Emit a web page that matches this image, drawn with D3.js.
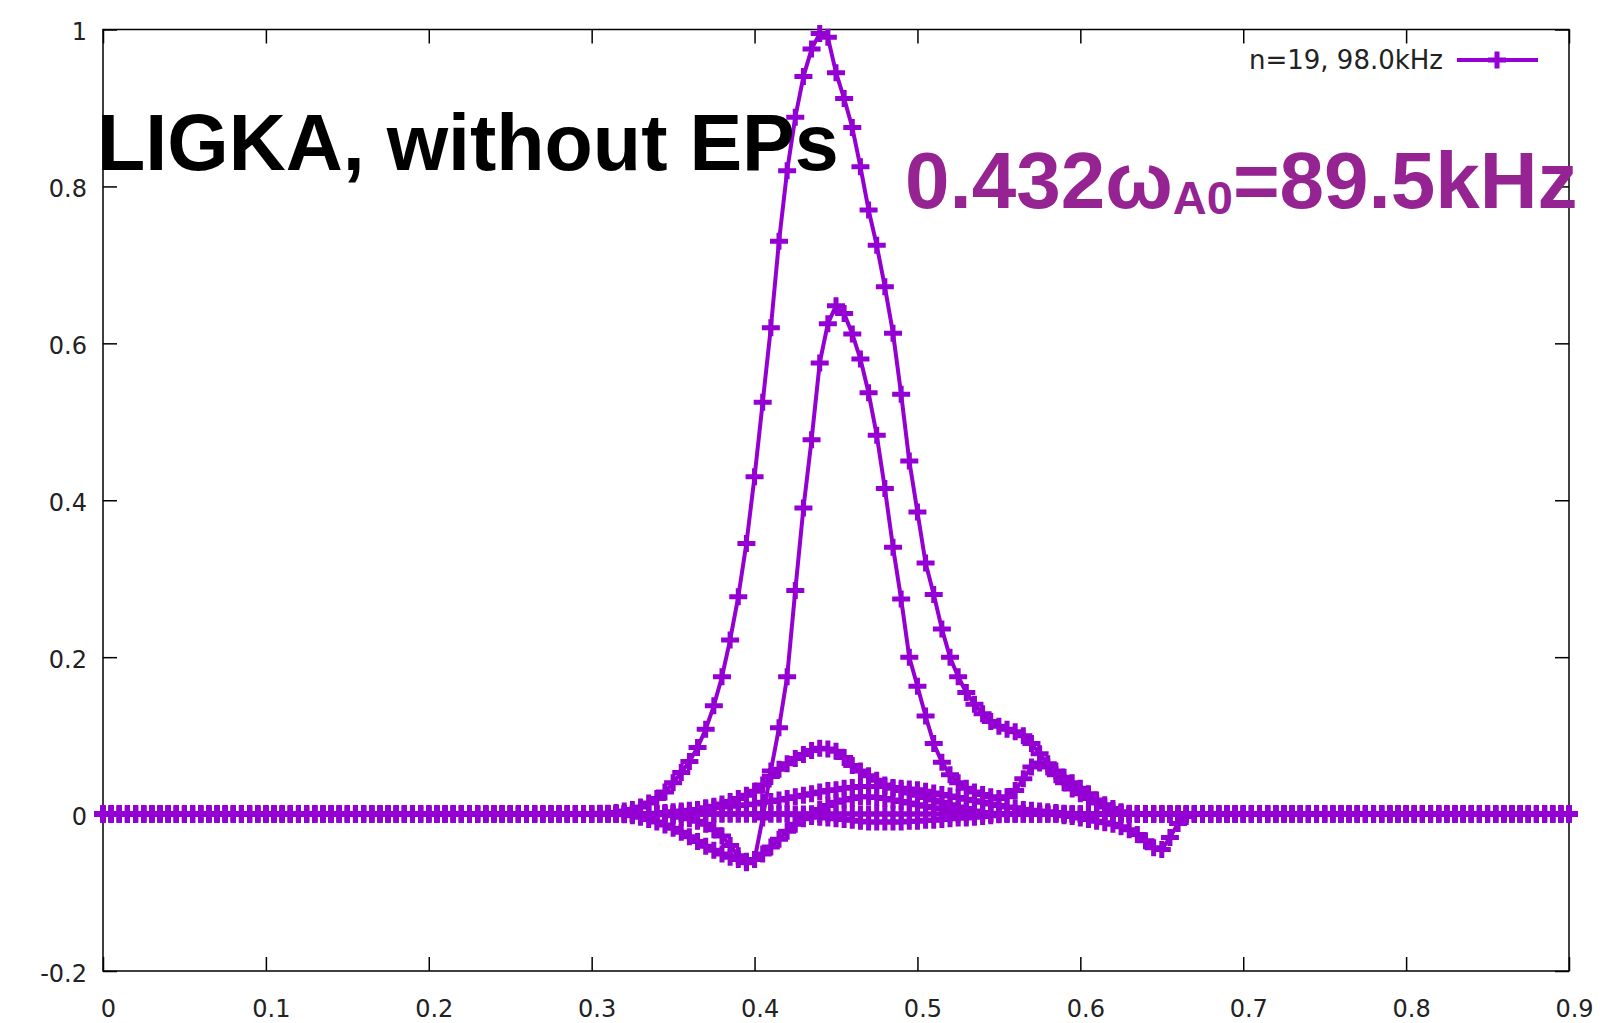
<!DOCTYPE html>
<meta charset="utf-8">
<style>
body { margin: 0; background: #fff; }
.axis text { font: 24px "DejaVu Sans", sans-serif; fill: #222; }
.axis line { stroke: #000; stroke-width: 1.5; }
.axis path { display: none; }
.frame { fill: none; stroke: #000; stroke-width: 1.5; }
.mode { fill: none; stroke: #9400d3; stroke-width: 4; stroke-linejoin: round; }
.mark { fill: none; stroke: #9400d3; stroke-width: 5; }
</style>
<body>
<script src="https://d3js.org/d3.v7.min.js"></script>
<script>

// radial grid (normalised radius), step 0.005
var rho = [
  0,0.005,0.01,0.015,0.02,0.025,0.03,0.035,0.04,0.045,0.05,0.055,0.06,0.065,0.07,0.075,0.08,0.085,0.09,0.095,
  0.1,0.105,0.11,0.115,0.12,0.125,0.13,0.135,0.14,0.145,0.15,0.155,0.16,0.165,0.17,0.175,0.18,0.185,0.19,0.195,
  0.2,0.205,0.21,0.215,0.22,0.225,0.23,0.235,0.24,0.245,0.25,0.255,0.26,0.265,0.27,0.275,0.28,0.285,0.29,0.295,
  0.3,0.305,0.31,0.315,0.32,0.325,0.33,0.335,0.34,0.345,0.35,0.355,0.36,0.365,0.37,0.375,0.38,0.385,0.39,0.395,
  0.4,0.405,0.41,0.415,0.42,0.425,0.43,0.435,0.44,0.445,0.45,0.455,0.46,0.465,0.47,0.475,0.48,0.485,0.49,0.495,
  0.5,0.505,0.51,0.515,0.52,0.525,0.53,0.535,0.54,0.545,0.55,0.555,0.56,0.565,0.57,0.575,0.58,0.585,0.59,0.595,
  0.6,0.605,0.61,0.615,0.62,0.625,0.63,0.635,0.64,0.645,0.65,0.655,0.66,0.665,0.67,0.675,0.68,0.685,0.69,0.695,
  0.7,0.705,0.71,0.715,0.72,0.725,0.73,0.735,0.74,0.745,0.75,0.755,0.76,0.765,0.77,0.775,0.78,0.785,0.79,0.795,
  0.8,0.805,0.81,0.815,0.82,0.825,0.83,0.835,0.84,0.845,0.85,0.855,0.86,0.865,0.87,0.875,0.88,0.885,0.89,0.895,
  0.9
];

// poloidal harmonics of the n=19 eigenfunction
var modeA = [
  0,0,0,0,0,0,0,0,0,0, 0,0,0,0,0,0,0,0,0,0,
  0,0,0,0,0,0,0,0,0,0, 0,0,0,0,0,0,0,0,0,0,
  0,0,0,0,0,0,0,0,0,0, 0,0,0,0,0,0,0,0,0,0,
  0,0.001,0.001,0.002,0.004,0.006,0.009,0.014,0.02,0.028,
  0.04,0.053,0.067,0.085,0.108,0.138,0.175,0.222,0.277,0.345,
  0.43,0.525,0.62,0.73,0.82,0.888,0.94,0.975,0.995,0.99,
  0.945,0.912,0.875,0.825,0.77,0.725,0.672,0.613,0.535,0.45,
  0.385,0.32,0.28,0.236,0.2,0.175,0.155,0.14,0.128,0.118,
  0.112,0.108,0.105,0.1,0.09,0.077,0.064,0.055,0.047,0.04,
  0.033,0.026,0.018,0.012,0.007,0.003,0.001,0,0,0,
  0,0,0,0,0,
  0,0,0,0,0,0,0,0,0,0, 0,0,0,0,0,0,0,0,0,0,
  0,0,0,0,0,0,0,0,0,0, 0,0,0,0,0,0,0,0,0,0,
  0,0,0,0,0,0
];
var modeB = [
  0,0,0,0,0,0,0,0,0,0, 0,0,0,0,0,0,0,0,0,0,
  0,0,0,0,0,0,0,0,0,0, 0,0,0,0,0,0,0,0,0,0,
  0,0,0,0,0,0,0,0,0,0, 0,0,0,0,0,0,0,0,0,0,
  0,0,0,0,0,0,0,0,0,-0.001,
  -0.002,-0.004,-0.006,-0.009,-0.013,-0.02,-0.028,-0.04,-0.053,-0.062,
  -0.058,-0.005,0.055,0.11,0.175,0.285,0.39,0.477,0.575,0.625,
  0.648,0.638,0.612,0.58,0.537,0.483,0.415,0.34,0.274,0.2,
  0.163,0.125,0.09,0.066,0.05,0.04,0.033,0.028,0.025,0.022,
  0.02,0.022,0.03,0.045,0.06,0.065,0.06,0.05,0.04,0.032,
  0.026,0.02,0.014,0.009,0.005,0.002,0,0,0,0,
  0,0,0,0,0,
  0,0,0,0,0,0,0,0,0,0, 0,0,0,0,0,0,0,0,0,0,
  0,0,0,0,0,0,0,0,0,0, 0,0,0,0,0,0,0,0,0,0,
  0,0,0,0,0,0
];
var modeC = [
  0,0,0,0,0,0,0,0,0,0, 0,0,0,0,0,0,0,0,0,0,
  0,0,0,0,0,0,0,0,0,0, 0,0,0,0,0,0,0,0,0,0,
  0,0,0,0,0,0,0,0,0,0, 0,0,0,0,0,0,0,0,0,0,
  0,0,0,0,0,0,0,0,0,0,
  0,0.002,0.004,0.006,0.008,0.01,0.013,0.016,0.02,0.024,
  0.029,0.037,0.048,0.057,0.064,0.071,0.076,0.081,0.084,0.083,
  0.08,0.072,0.062,0.055,0.049,0.043,0.037,0.033,0.03,0.027,
  0.024,0.021,0.018,0.015,0.012,0.009,0.007,0.004,0.002,0.001,
  0,0,0,0,0,0,0,0,0,0,
  0,0,0,0,0,0,0,0,0,0,
  0,0,0,0,0,
  0,0,0,0,0,0,0,0,0,0, 0,0,0,0,0,0,0,0,0,0,
  0,0,0,0,0,0,0,0,0,0, 0,0,0,0,0,0,0,0,0,0,
  0,0,0,0,0,0
];
var modeD = [
  0,0,0,0,0,0,0,0,0,0, 0,0,0,0,0,0,0,0,0,0,
  0,0,0,0,0,0,0,0,0,0, 0,0,0,0,0,0,0,0,0,0,
  0,0,0,0,0,0,0,0,0,0, 0,0,0,0,0,0,0,0,0,0,
  0,0,0,0,-0.001,-0.002,-0.004,-0.007,-0.01,-0.014,
  -0.018,-0.023,-0.029,-0.035,-0.041,-0.046,-0.051,-0.055,-0.058,-0.06,
  -0.058,-0.051,-0.042,-0.032,-0.022,-0.013,-0.006,0,0.006,0.011,
  0.015,0.018,0.02,0.022,0.022,0.021,0.02,0.018,0.016,0.014,
  0.012,0.01,0.008,0.007,0.006,0.004,0.003,0.002,0.001,0,
  0,0,0,0,0,0,0,0,0,0,
  0,0,0,0,0,0,0,0,0,0,
  0,0,0,0,0,
  0,0,0,0,0,0,0,0,0,0, 0,0,0,0,0,0,0,0,0,0,
  0,0,0,0,0,0,0,0,0,0, 0,0,0,0,0,0,0,0,0,0,
  0,0,0,0,0,0
];
var modeE = [
  0,0,0,0,0,0,0,0,0,0, 0,0,0,0,0,0,0,0,0,0,
  0,0,0,0,0,0,0,0,0,0, 0,0,0,0,0,0,0,0,0,0,
  0,0,0,0,0,0,0,0,0,0, 0,0,0,0,0,0,0,0,0,0,
  0,0,0,0,0,0,0,0,0.001,0.002,
  0.003,0.004,0.005,0.006,0.007,0.008,0.009,0.01,0.011,0.012,
  0.013,0.015,0.016,0.018,0.02,0.022,0.024,0.026,0.028,0.03,
  0.031,0.033,0.034,0.035,0.035,0.035,0.035,0.034,0.033,0.032,
  0.031,0.029,0.027,0.025,0.023,0.021,0.019,0.017,0.015,0.013,
  0.011,0.009,0.008,0.006,0.005,0.004,0.003,0.002,0.001,0,
  0,0,0,0,0,0,0,0,0,0,
  0,0,0,0,0,
  0,0,0,0,0,0,0,0,0,0, 0,0,0,0,0,0,0,0,0,0,
  0,0,0,0,0,0,0,0,0,0, 0,0,0,0,0,0,0,0,0,0,
  0,0,0,0,0,0
];
var modeF = [
  0,0,0,0,0,0,0,0,0,0, 0,0,0,0,0,0,0,0,0,0,
  0,0,0,0,0,0,0,0,0,0, 0,0,0,0,0,0,0,0,0,0,
  0,0,0,0,0,0,0,0,0,0, 0,0,0,0,0,0,0,0,0,0,
  0,0,0,0,0,0,0,0,0,0,
  0,0,0,0,0,0,0,0,0,0,
  0,0,0,0,0,-0.001,-0.002,-0.003,-0.004,-0.005,
  -0.006,-0.007,-0.008,-0.009,-0.01,-0.01,-0.01,-0.01,-0.01,-0.009,
  -0.009,-0.008,-0.008,-0.007,-0.006,-0.005,-0.005,-0.004,-0.003,-0.002,
  -0.001,0,0,0,0,0,0,0,0,0,
  0,0,0,0,0,0,0,0,0,0,
  0,0,0,0,0,
  0,0,0,0,0,0,0,0,0,0, 0,0,0,0,0,0,0,0,0,0,
  0,0,0,0,0,0,0,0,0,0, 0,0,0,0,0,0,0,0,0,0,
  0,0,0,0,0,0
];
var modeG = [
  0,0,0,0,0,0,0,0,0,0, 0,0,0,0,0,0,0,0,0,0,
  0,0,0,0,0,0,0,0,0,0, 0,0,0,0,0,0,0,0,0,0,
  0,0,0,0,0,0,0,0,0,0, 0,0,0,0,0,0,0,0,0,0,
  0,0,0,0,0,0,0,0,0,0,
  0,0,0,0,0,0,0,0,0,0,
  0,0,0,0,0,0,0,0,0,0,
  0,0,0,0,0,0,0,0,0,0,
  0,0,0,0,0,0,0,0,0,0,
  0,0,0,0,0,0,0,0,-0.002,-0.003,
  -0.005,-0.007,-0.009,-0.011,-0.013,-0.016,-0.02,-0.026,-0.034,-0.043,
  -0.045,-0.03,-0.012,-0.003,0,
  0,0,0,0,0,0,0,0,0,0, 0,0,0,0,0,0,0,0,0,0,
  0,0,0,0,0,0,0,0,0,0, 0,0,0,0,0,0,0,0,0,0,
  0,0,0,0,0,0
];

var modes = [modeG, modeF, modeE, modeD, modeC, modeB, modeA];

var xTicks = [0, 0.1, 0.2, 0.3, 0.4, 0.5, 0.6, 0.7, 0.8, 0.9];
var yTicks = [-0.2, 0, 0.2, 0.4, 0.6, 0.8, 1];
var legendLabel = "n=19, 98.0kHz";
var title = "LIGKA, without EPs";

var width = 1613, height = 1023;
var margin = {left: 103, right: 44, top: 29.5, bottom: 52};
var iw = width - margin.left - margin.right,
    ih = height - margin.top - margin.bottom;
var color = "#9400d3";

var x = d3.scaleLinear().domain([0, 0.9]).range([0, iw]);
var y = d3.scaleLinear().domain([-0.2, 1]).range([ih, 0]);

var svg = d3.select("body").append("svg")
    .attr("width", width)
    .attr("height", height);

var g = svg.append("g")
    .attr("transform", "translate(" + margin.left + "," + margin.top + ")");

// ticks point inwards on all four sides, like gnuplot
g.append("g")
    .attr("class", "axis")
    .attr("transform", "translate(0," + ih + ")")
    .call(d3.axisBottom(x).tickValues(xTicks).tickSize(-14).tickSizeOuter(0)
      .tickPadding(29).tickFormat(function(d) { return String(d); }))
  .selectAll("text")
    .attr("x", 5);

g.append("g")
    .attr("class", "axis")
    .call(d3.axisLeft(y).tickValues(yTicks).tickSize(-14).tickSizeOuter(0)
      .tickPadding(16).tickFormat(function(d) { return String(d); }))
  .selectAll("text")
    .attr("dy", "0.42em");

g.append("g")
    .attr("class", "axis")
    .call(d3.axisTop(x).tickValues(xTicks).tickSize(-14).tickSizeOuter(0).tickFormat(""));

g.append("g")
    .attr("class", "axis")
    .attr("transform", "translate(" + iw + ",0)")
    .call(d3.axisRight(y).tickValues(yTicks).tickSize(-14).tickSizeOuter(0).tickFormat(""));

g.append("rect")
    .attr("class", "frame")
    .attr("width", iw)
    .attr("height", ih);

// annotations
svg.append("text")
    .attr("x", 97)
    .attr("y", 170)
    .style("font", "bold 79px 'Liberation Sans', Arial, sans-serif")
    .style("fill", "#000")
    .text(title);

var freq = svg.append("text")
    .attr("x", 905)
    .attr("y", 208)
    .style("font", "bold 80px 'Liberation Sans', Arial, sans-serif")
    .style("fill", "#952391");
freq.append("tspan").text("0.432ω");
freq.append("tspan").attr("dy", 6).style("font-size", "47px").text("A0");
freq.append("tspan").attr("dy", -6).text("=89.5kHz");

// curves with '+' point markers
var line = d3.line()
    .x(function(d, i) { return x(rho[i]); })
    .y(function(d) { return y(d); });

var cross = "M-9,0H9M0,-8.5V8.5";

modes.forEach(function(m) {
  g.append("path")
      .datum(m)
      .attr("class", "mode")
      .attr("d", line);

  g.append("g").selectAll("path")
      .data(m)
    .enter().append("path")
      .attr("class", "mark")
      .attr("transform", function(d, i) { return "translate(" + x(rho[i]) + "," + y(d) + ")"; })
      .attr("d", cross);
});

// key
var key = svg.append("g").attr("transform", "translate(1443,60)");
key.append("text")
    .attr("text-anchor", "end")
    .attr("dy", "0.35em")
    .style("font", "26px 'DejaVu Sans', sans-serif")
    .style("fill", "#222")
    .text(legendLabel);
key.append("line")
    .attr("x1", 14).attr("x2", 95)
    .style("stroke", color).style("stroke-width", 4);
key.append("path")
    .attr("class", "mark")
    .attr("transform", "translate(54,0)")
    .attr("d", cross);

</script>
